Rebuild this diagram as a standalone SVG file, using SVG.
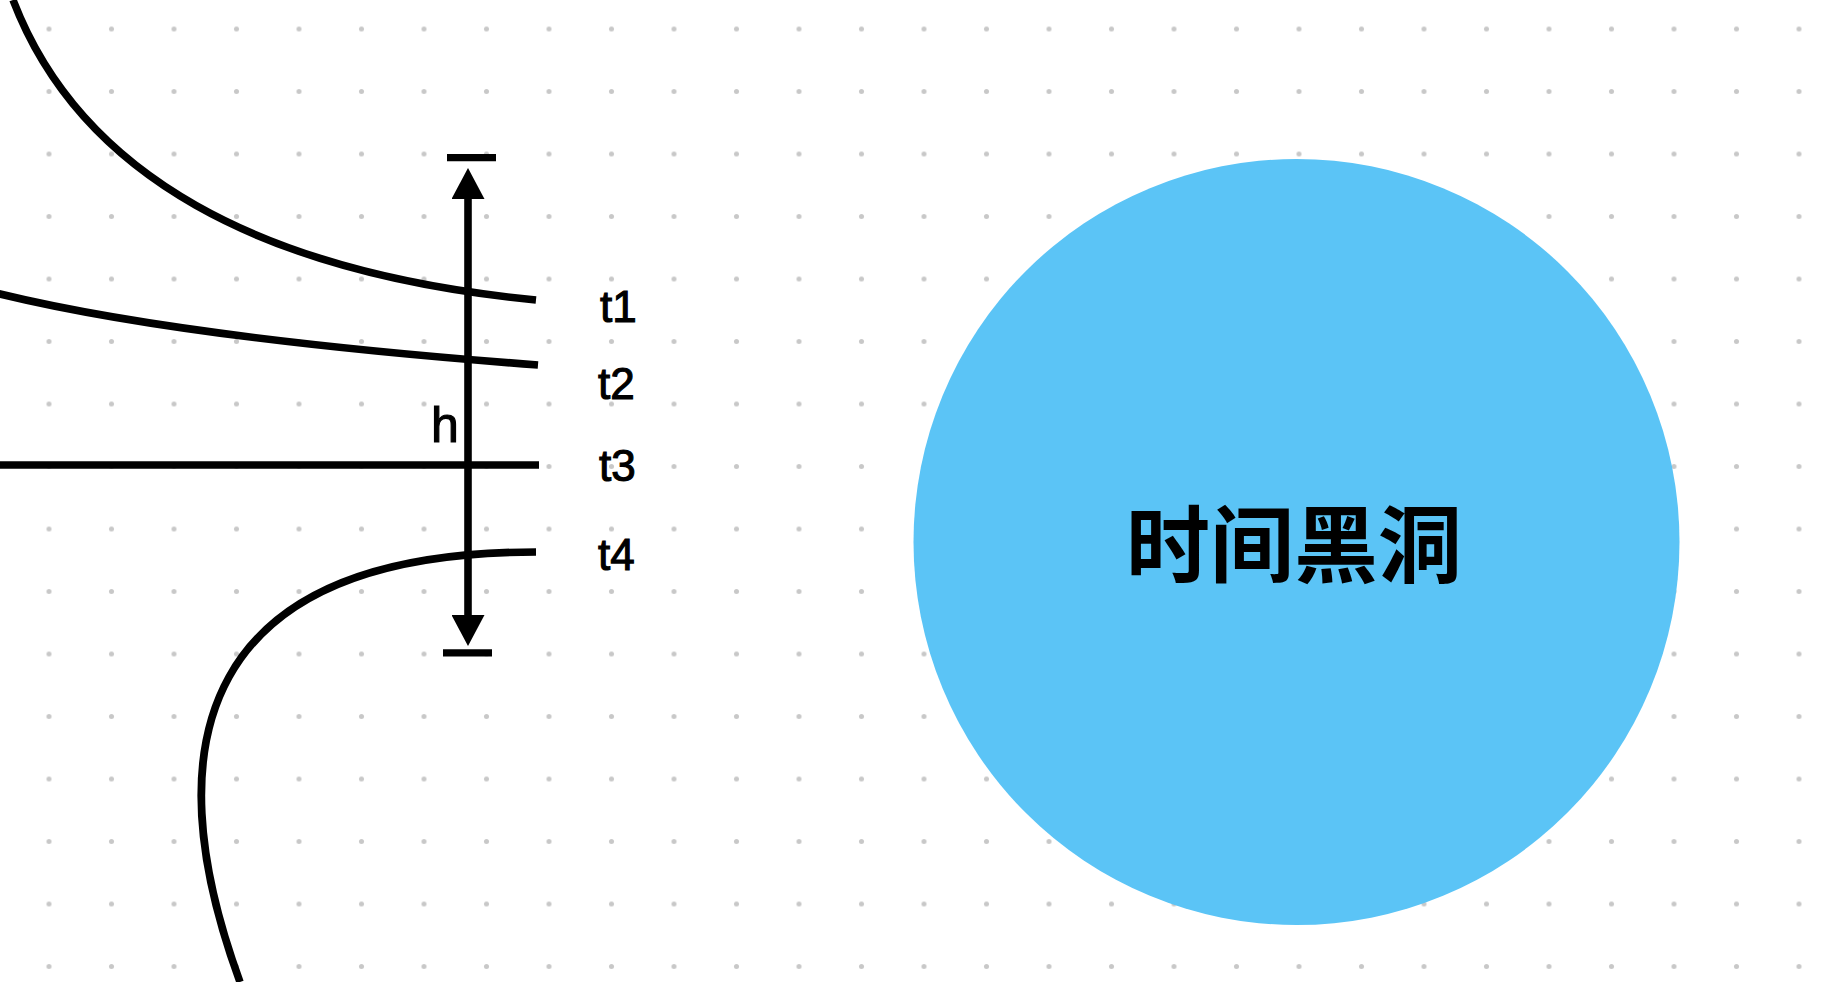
<svg xmlns="http://www.w3.org/2000/svg" width="1844" height="982" viewBox="0 0 1844 982">
  <style>
    .curve { fill: none; stroke: #000; stroke-width: 7.6; }
    .bar { stroke: #000; stroke-width: 7.3; }
    .lbl { font-family: "Liberation Sans", Arial, sans-serif; font-size: 44px; fill: #000; stroke: #000; stroke-width: 1.1; }
    .title { font-family: "Noto Sans CJK SC", "Noto Sans CJK JP", sans-serif; font-weight: 700; font-size: 84px; fill: #000; }
  </style>
  <defs>
    <pattern id="dots" x="17.75" y="-2.25" width="62.5" height="62.5" patternUnits="userSpaceOnUse">
      <circle cx="31.25" cy="31.25" r="2.5" fill="#c8c8c8"/>
    </pattern>
    <marker id="arrow" viewBox="0 0 31 33" refX="0" refY="16.5" markerWidth="31" markerHeight="33" markerUnits="userSpaceOnUse" orient="auto-start-reverse">
      <path d="M0,0 L31,16.5 L0,33 Z" fill="#000"/>
    </marker>
  </defs>

  <rect x="0" y="0" width="1844" height="982" fill="#fff"/>
  <rect x="0" y="0" width="1844" height="982" fill="url(#dots)"/>

  <g id="connectors">
    <path id="curve-t1" class="curve" d="M13,0 C80,175 260,273 536,300"/>
    <path id="curve-t2" class="curve" d="M-2,293.5 Q180,338 538,365"/>
    <path id="curve-t3" class="curve" d="M0,465 H539"/>
    <path id="curve-t4" class="curve" d="M536,552 C200,552 152,742 240,982"/>
    <path id="h-arrow" class="curve" d="M468,199 L468,615" marker-start="url(#arrow)" marker-end="url(#arrow)"/>
    <line class="bar" x1="447" y1="157.7" x2="496" y2="157.7"/>
    <line class="bar" x1="443" y1="652.8" x2="492" y2="652.8"/>
  </g>

  <g id="label-h"><text class="lbl" x="431" y="441.5" style="font-size:50px">h</text></g>
  <g id="label-t1"><text class="lbl" x="600" y="321.5">t1</text></g>
  <g id="label-t2"><text class="lbl" x="598" y="399.3">t2</text></g>
  <g id="label-t3"><text class="lbl" x="599" y="480.5">t3</text></g>
  <g id="label-t4"><text class="lbl" x="598" y="570">t4</text></g>

  <g id="black-hole">
    <circle cx="1296.5" cy="542" r="383" fill="#5bc4f6"/>
    <text class="title" x="1294" y="576" text-anchor="middle">时间黑洞</text>
  </g>
</svg>
